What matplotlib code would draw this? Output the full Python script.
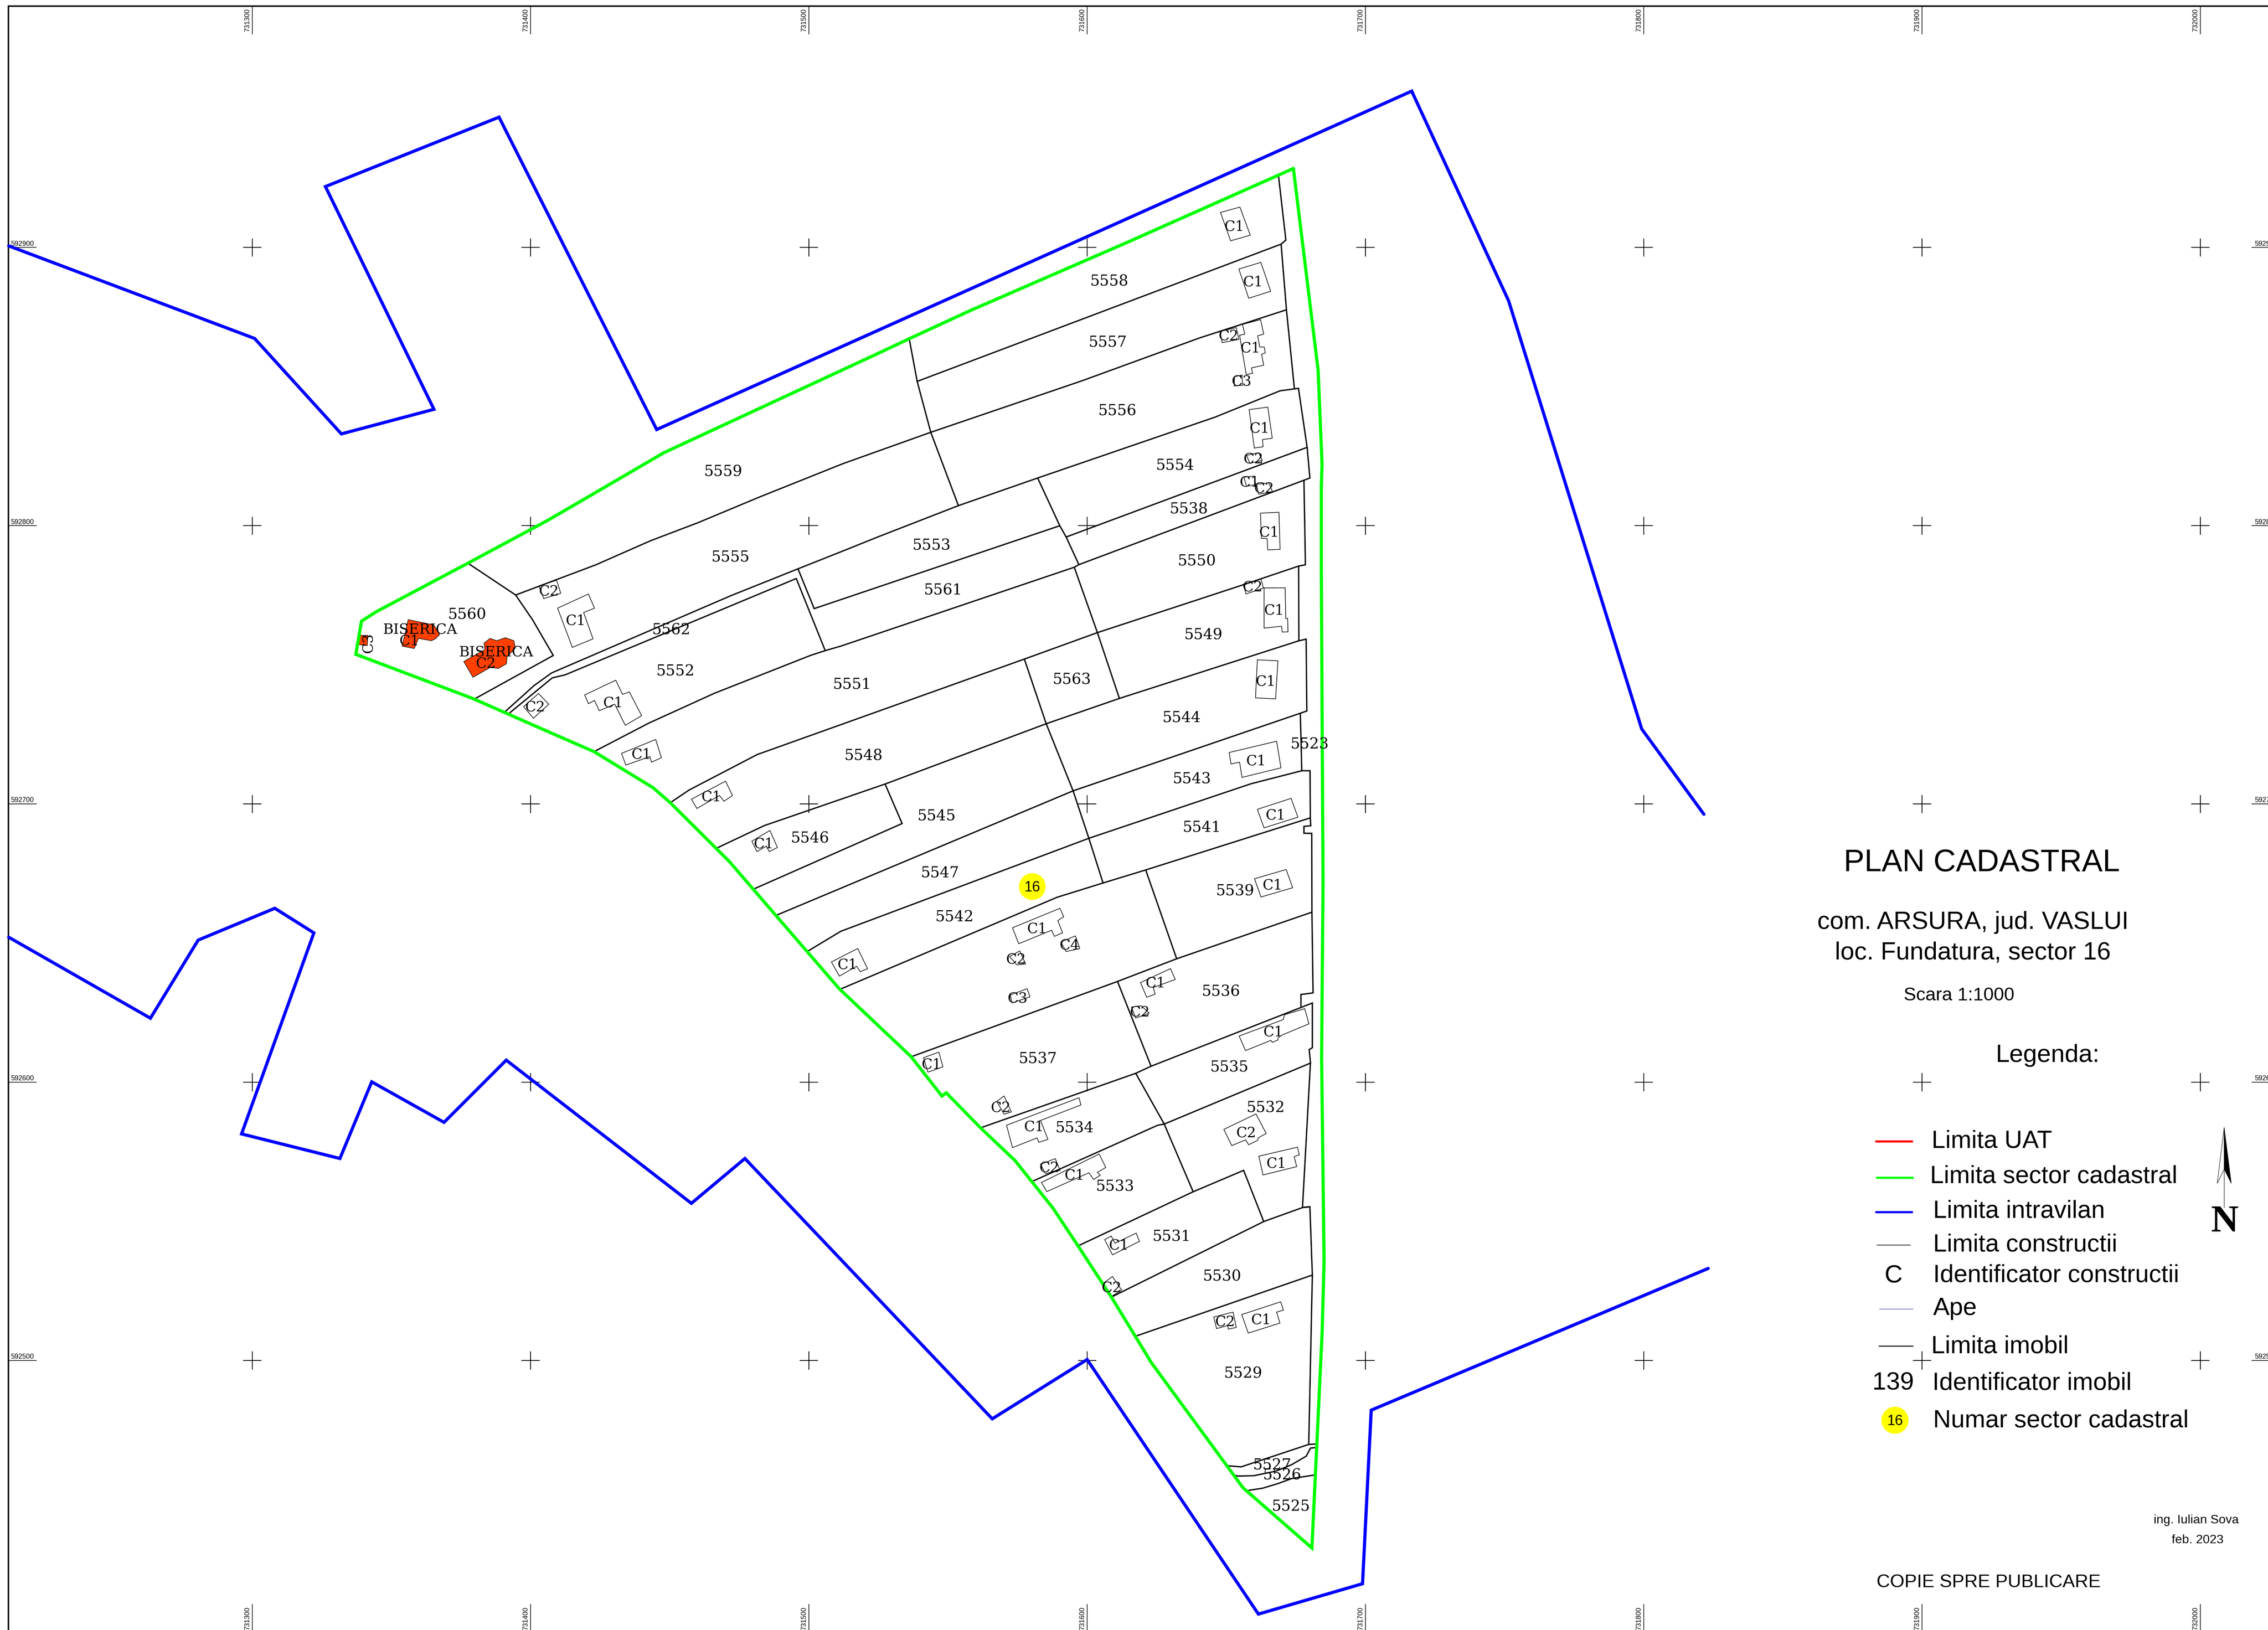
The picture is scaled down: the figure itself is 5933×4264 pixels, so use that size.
import matplotlib
matplotlib.use("Agg")
import matplotlib.pyplot as plt
from matplotlib.patches import Ellipse, Polygon

# all geometry is in sheet units, 1568 wide and 1127 high (y goes down)

# grid of the plan
grid_x = [174.4, 366.8, 559.2, 751.6, 944.0, 1136.4, 1328.8, 1521.2]
grid_x_labels = ["731300", "731400", "731500", "731600", "731700", "731800", "731900", "732000"]
grid_y = [171.1, 363.5, 555.9, 748.3, 940.7]
grid_y_labels = ["592900", "592800", "592700", "592600", "592500"]

# limita intravilan
blue_north = [(6, 170), (176, 234), (236, 300), (300, 283), (225, 129), (345, 81), (454, 297),
              (976, 63), (1043, 208), (1135, 504), (1178, 563)]
blue_south = [(6, 648), (104, 704), (137, 650), (190, 628), (217, 645), (167, 784), (235, 801),
              (257, 748), (307, 776), (350, 733), (478, 832), (515, 801), (686, 981), (751.6, 940),
              (870, 1116), (942, 1095), (948, 975), (1181, 877)]

# limita sector cadastral
green_sector = [(894.2, 116.5), (778.8, 167.8), (670.2, 215), (628.6, 234.2), (607.8, 244), (459, 313),
                (406.7, 343.5), (379, 359.6), (323.5, 389.4), (260.4, 422.8), (249.9, 429.5), (246, 452.4),
                (327, 483), (374, 503.7), (410.7, 519.7), (451.6, 544.7), (463.4, 555), (504, 595.4),
                (528.5, 623.8), (580.3, 683.7), (629.8, 730.5), (651.2, 757.8), (654.2, 755.6),
                (677.8, 779.7), (701.8, 802.5), (727.9, 835.2), (745.5, 861.7), (768.3, 896.7),
                (796.1, 942.3), (859.3, 1028.6), (907, 1070.3), (910.4, 998.7), (914.1, 920.3),
                (915.4, 872), (913.7, 731), (914.7, 610), (913.5, 396), (913.5, 336), (914, 321),
                (911.3, 256), (894.2, 116.5)]

# limita imobil
lot_lines = [
    [(884, 122.4), (889, 166), (885.7, 168.8), (634.1, 263.7)],
    [(885.7, 168.8), (889.4, 214.2), (894.9, 268.9)],
    [(628.6, 234.2), (634.1, 263.7), (643.5, 298.9), (662.6, 349.6)],
    [(356.5, 411.4), (412, 390.5), (449.7, 373.9), (482.8, 361.3), (525.2, 343.6), (583, 320.5),
     (643.5, 298.9), (748, 263.3), (829.2, 233.7), (889.4, 214.2)],
    [(323.5, 389.4), (356.5, 411.4), (368.3, 428.7), (382.5, 453.2), (328.2, 483.2)],
    [(349.4, 491.9), (369, 474.2), (381.3, 465.3), (505.2, 411.9), (551.7, 393.3), (581.4, 381.5),
     (607.8, 370.9), (662.6, 349.6), (717.4, 330.5), (840.1, 288.4), (885, 270.2), (897.7, 268.5),
     (903.7, 309.3), (905.6, 330.5), (745.9, 390.4), (742.7, 392.2), (581.4, 446.7), (570.7, 449.8),
     (560.5, 453.1), (494, 479.3), (448.5, 500), (412, 519)],
    [(352.5, 492.8), (381.8, 468.7), (390.7, 466.6), (550.5, 400), (570.5, 449.8)],
    [(551.7, 393.3), (562.9, 420.8), (732.7, 363.5)],
    [(737.1, 371.3), (903.7, 309.3)],
    [(717.4, 330.5), (732.7, 363.5), (737.1, 371.3), (745.9, 390.4)],
    [(901.5, 332.3), (902.5, 390.5), (897.8, 391.4), (859, 404.5), (758.7, 437.4), (708.2, 455.7),
     (523.5, 521.7), (476.3, 546.3), (464, 554.6)],
    [(742.7, 392.2), (758.7, 437.4), (773.9, 482.9)],
    [(708.2, 455.7), (723.3, 500.4), (741.9, 546.8), (752.8, 579.6), (762.6, 610.5)],
    [(495.1, 586.6), (528.5, 570.8), (611.9, 542.1), (723.3, 500.4), (773.9, 482.9), (897.8, 443.1),
     (903, 441.9), (903.5, 491.6), (741.9, 546.8), (537.3, 632.6)],
    [(897.8, 391.4), (898, 442.8)],
    [(899, 493.7), (900, 532.9), (905.7, 532.9), (905.9, 565.5), (906.2, 570.9), (901.5, 571.4),
     (901.5, 576.1), (906.9, 576.2), (907, 630.7), (907.8, 686.5), (899.4, 687.6), (899.4, 695.7)],
    [(558.9, 657.4), (581.3, 643.9), (752.8, 579.6), (864.9, 541.9), (900, 532.9)],
    [(581.5, 683.7), (730.8, 620.4), (762.6, 610.5), (792.1, 601.5), (905.9, 565.5)],
    [(611.9, 542.1), (623.7, 569.4), (521.3, 614.6)],
    [(792.1, 601.5), (813.5, 662.9)],
    [(630.4, 730.5), (772.6, 678.6), (813.5, 662.9), (907, 630.7)],
    [(678.2, 779.7), (785.2, 742.1), (795.8, 737.2), (907.3, 693.5), (907.3, 724.4), (905.1, 725.7),
     (906, 734.5), (900.5, 834.8), (905.6, 834.4), (907.3, 881.6), (904.8, 998.7)],
    [(772.6, 678.6), (795.8, 737.2)],
    [(785.2, 742.1), (804.9, 777.2), (824.9, 824)],
    [(714.4, 816.5), (800.4, 778), (804.9, 777.2), (906.1, 735)],
    [(746, 861.1), (824.9, 824), (859.8, 809.2), (873.7, 844.6)],
    [(768.6, 896.7), (873.9, 844.5), (900.6, 834.9), (905.6, 834.4)],
    [(785.6, 923.7), (907.3, 881.6)],
    [(849.2, 1013.5), (858.1, 1014.2), (904.8, 998.7), (910.4, 998.4)],
    [(854.2, 1020.1), (855.9, 1020.6), (866.9, 1020.3), (882, 1017.2), (893, 1012.7), (903.1, 1006.8),
     (906, 1001.2), (909.9, 1000.9)],
    [(863.5, 1030.4), (872.8, 1029), (883.7, 1025.7), (893, 1022.3), (909, 1019.8)],
]

# limita constructii
buildings = [
    [(843.8, 146.9), (857.2, 143.2), (864.4, 162.6), (850.8, 166.5)],
    [(856.5, 186), (871.7, 181.4), (878.5, 201.4), (863.3, 206.2)],
    [(843.4, 229.2), (854.7, 226.5), (856.5, 234.6), (845, 236.9)],
    [(859, 224.3), (871.5, 221), (873.7, 231), (869.5, 232.2), (870.9, 239.9), (874, 239.9), (874.8, 244),
     (872.2, 244.9), (873.7, 252.5), (865.2, 254.4), (866, 258.1), (861.6, 259), (857, 231.8), (860.6, 231)],
    [(853.5, 260.5), (858.7, 259.3), (859, 266.4), (853.3, 266.9)],
    [(863.6, 283.2), (876.5, 281.5), (879.6, 303), (872.9, 303.9), (873.2, 308.9), (867.2, 309.8)],
    [(861.8, 314.8), (870.2, 313), (872.7, 318.3), (864.1, 320.4)],
    [(860, 329.9), (867.1, 329.2), (868.1, 335.1), (861.8, 336.2)],
    [(868.6, 334.8), (877.2, 333.9), (879.8, 340.1), (870.2, 341.7)],
    [(871.4, 354.8), (884.2, 354.2), (885, 379.8), (876.5, 380.2), (876, 372.4), (872.1, 372.2)],
    [(859.4, 404), (871.7, 400.3), (873.5, 406.5), (861.5, 410.7)],
    [(873.9, 406.5), (888.5, 406.4), (888.9, 427.6), (890.2, 427.6), (890.5, 436.9), (886.5, 437),
     (886, 433), (873.9, 434.3)],
    [(869.3, 456.2), (883.5, 456.9), (881.9, 483.2), (868, 482.5)],
    [(849.8, 520.3), (882.6, 512.5), (885.6, 530.9), (858.7, 537.5), (857, 527), (851.1, 528.2)],
    [(869.3, 559.6), (892.6, 552), (897.3, 565), (873.9, 572.4)],
    [(867.3, 607.6), (889.2, 601.2), (893.7, 613.8), (871.8, 620.2)],
    [(372.6, 405.1), (384.8, 401.2), (387.7, 410.2), (375.9, 413.9)],
    [(385.5, 420.5), (406.8, 410.7), (411, 420.5), (403.5, 423.5), (410, 441.7), (395.7, 447.6)],
    [(362, 488.6), (372.3, 479.5), (379.4, 486.9), (368.8, 496.6)],
    [(404.2, 480.5), (425.7, 470.3), (430.4, 480.1), (435.1, 478.4), (443.6, 494.8), (432.3, 501.5),
     (425, 486.9), (414.3, 491.4), (411, 484.3), (406.8, 486.5)],
    [(429.7, 520.9), (453.3, 511.3), (457.3, 523.9), (450.4, 527), (449.3, 523.1), (432.7, 529)],
    [(478, 552.6), (501.6, 540.1), (506.4, 550), (500.5, 554), (497.4, 550), (481.8, 559)],
    [(519.8, 581.6), (532.3, 574.2), (537.5, 586), (531.8, 588.8), (529.9, 585), (523.3, 588.8)],
    [(574.8, 665.1), (593, 655.8), (599.8, 669.8), (594.8, 671.8), (592.2, 668.1), (580.3, 674.9)],
    [(700, 641.5), (732.8, 628), (735.4, 633.9), (731.3, 636.5), (734.6, 644.9), (729, 647.4),
     (727, 643.2), (704.3, 652.5)],
    [(733.4, 651.3), (743.5, 647.1), (746.5, 655.8), (737.1, 657.9)],
    [(698, 661.4), (705, 657.5), (709.1, 666.5), (703, 667.1)],
    [(698.5, 687.9), (710.1, 683.6), (712.1, 689.2), (699.7, 693.4)],
    [(788.5, 679.4), (809.2, 669.7), (812.5, 677.2), (797.3, 682.8), (798.6, 687.4), (792.8, 689.5)],
    [(782.2, 696.3), (789, 695.4), (794.6, 700.5), (785.2, 703.9)],
    [(856.7, 716.3), (887.1, 705), (888.1, 701.6), (902, 697.4), (905, 707.9), (886.4, 715.6),
     (883.6, 717.6), (883.6, 719), (879.6, 720.7), (878.7, 719.3), (861.1, 726.4)],
    [(638.5, 731.3), (649.1, 727.5), (651.9, 737.6), (641.5, 741.3)],
    [(689.1, 761.5), (694.2, 757.8), (699.2, 768.8), (694.2, 770.4)],
    [(695.9, 778), (746, 759), (747.3, 764), (719.4, 774.7), (724.5, 787.8), (718.2, 789.8),
     (716.9, 786.8), (700, 793.5)],
    [(719.4, 805), (729.6, 801.1), (732.9, 809.2), (722.7, 811.4)],
    [(720, 817.6), (759.9, 797.9), (764.5, 807.2), (758.6, 810.6), (760.7, 812.6), (756.1, 815.5),
     (752.8, 810.9), (723.7, 823.9)],
    [(846.1, 780.9), (868.3, 770.2), (875.4, 783.7), (869.9, 786.7), (869.5, 788.4), (863.3, 791.5),
     (861.1, 788.1), (851.6, 792.1)],
    [(870.3, 799.4), (897, 793.2), (898.3, 798.5), (894.7, 799.7), (896.5, 806.6), (873.2, 812.4)],
    [(763.7, 857.1), (768.3, 854.6), (770.8, 859.6), (785.5, 852.6), (787.8, 858.3), (769.1, 867.6)],
    [(762.4, 887.5), (769.1, 882.6), (775.5, 892), (768.3, 896.4)],
    [(839.1, 910.6), (852.5, 907.2), (854.7, 917.8), (849.2, 919), (848.7, 916.5), (841.1, 918.6)],
    [(858.5, 908.9), (885.4, 900.1), (887.3, 905.8), (882.6, 907.2), (884.9, 914.8), (863, 921.7)],
]

# bisericile, filled
churches = [
    [(248.7, 439.3), (254.3, 439.3), (253.9, 446.4), (247.5, 445.6)],
    [(282.2, 428.4), (299.9, 432.1), (302.2, 436), (303.9, 438.8), (301, 441.7), (298.2, 443), (289.3, 441.4),
     (286.4, 448.4), (277.9, 446.7), (280.3, 437.2)],
    [(320.6, 457.4), (335.3, 449), (334.6, 444.7), (338.8, 441.4), (343.5, 443), (349.4, 440.9), (355.3, 443),
     (356.3, 448.1), (350.6, 454), (350.1, 459), (344.7, 462.1), (338.8, 461.6), (327, 468.3)],
]

lot_ids = ["5558", "5557", "5556", "5554", "5538", "5550", "5549", "5563", "5544", "5543", "5541", "5539",
           "5523", "5559", "5555", "5553", "5561", "5560", "5562", "5552", "5551", "5548", "5545", "5546",
           "5547", "5542", "5536", "5537", "5535", "5534", "5532", "5533", "5531", "5530", "5529", "5527",
           "5526", "5525"]
lot_id_xy = [(767, 193.5), (766, 235.5), (772.5, 283), (812.5, 320.5), (822, 351), (827.5, 387), (832, 438),
             (741, 469), (817, 495), (824, 537.5), (831, 571), (854, 615), (905.5, 513.5), (500, 325), (505, 384),
             (644, 376), (652, 407), (323, 424), (464, 434.5), (467, 463), (589, 472), (597, 521.5), (647.5, 563),
             (560, 578.5), (650, 602.5), (660, 633), (844, 684.5), (717.5, 731), (850, 737), (743, 779),
             (875, 765), (771, 819.5), (810, 854), (845, 881.5), (859.5, 948.5), (879.5, 1012), (886.5, 1019),
             (892.5, 1040.5)]

building_ids = ["C1", "C1", "C2", "C1", "C3", "C1", "C2", "C1", "C2", "C1", "C2", "C1", "C1", "C1", "C1", "C1",
                "C2", "C1", "C2", "C1", "C1", "C1", "C1", "C1", "C1", "C4", "C2", "C3", "C1", "C2", "C1", "C1",
                "C2", "C1", "C2", "C1", "C2", "C1", "C1", "C2", "C2", "C1", "C1", "C2"]
building_id_xy = [(853.5, 155.5), (866.5, 194), (849.5, 231.5), (864.5, 239.5), (858.5, 263), (871, 295),
                  (866.5, 316.5), (864, 332.5), (874, 337), (877.5, 367), (866, 405), (881, 421), (875, 470),
                  (868.5, 525), (882, 562.5), (880, 611), (379.5, 408), (398, 428), (370, 488), (424, 485),
                  (443.5, 520.5), (492, 550), (528, 582.5), (586, 666), (717, 641), (739.5, 652.5),
                  (702.5, 662.5), (703.5, 689.5), (799, 678.5), (788, 699), (880.5, 712.5), (644, 735),
                  (692, 765), (715, 778), (725.5, 806.5), (743, 811.5), (861.5, 782.5), (882.5, 803.5),
                  (773.5, 860), (768.5, 889.5), (847, 913), (872, 911.5), (283, 442), (336, 458)]

church_names = ["BISERICA", "BISERICA"]
church_xy = [(290.5, 434.5), (343, 450)]

legend_names = ["Limita UAT", "Limita sector cadastral", "Limita intravilan", "Limita constructii",
                "Identificator constructii", "Ape", "Limita imobil", "Identificator imobil",
                "Numar sector cadastral"]
legend_text_xy = [(1335.5, 787.4), (1334.5, 811.5), (1336.5, 835.7), (1336.5, 858.9), (1336.5, 880.1),
                  (1336.5, 902.8), (1335.1, 929.2), (1335.9, 954.7), (1336.5, 980.6)]

fig = plt.figure(figsize=(59.33, 42.64), dpi=100)
ax = fig.add_axes([0, 0, 1, 1])
ax.set_xlim(0, 1568)
ax.set_ylim(1127, 0)
ax.axis("off")

SERIF = "DejaVu Serif"
SANS = "Liberation Sans"
# text sits a bit high with va=center, these push it back down
SERIF_DY = 1.3
SANS_DY = 1.8


def draw_line(points, color="black", lw=2.5, z=3):
    xs = [p[0] for p in points]
    ys = [p[1] for p in points]
    ax.plot(xs, ys, color=color, lw=lw, solid_capstyle="round", solid_joinstyle="miter", zorder=z)


# frame
draw_line([(5.8, 1127), (5.8, 4.3), (1568, 4.3)], lw=2.8)

# grid crosses and coordinates
for gx in grid_x:
    for gy in grid_y:
        ax.plot([gx - 6, gx + 6], [gy, gy], color="black", lw=1.5, zorder=2)
        ax.plot([gx, gx], [gy - 6, gy + 6], color="black", lw=1.5, zorder=2)
for gx, label in zip(grid_x, grid_x_labels):
    ax.plot([gx, gx], [4.3, 23.6], color="black", lw=1.2, zorder=2)
    ax.plot([gx, gx], [1109.4, 1127], color="black", lw=1.2, zorder=2)
    ax.text(gx - 1, 14, label, rotation=90, ha="right", va="center", fontsize=13, family=SANS)
    ax.text(gx - 1, 1119, label, rotation=90, ha="right", va="center", fontsize=13, family=SANS)
for gy, label in zip(grid_y, grid_y_labels):
    ax.plot([5.8, 25], [gy, gy], color="black", lw=1.2, zorder=2)
    ax.plot([1556.8, 1568], [gy, gy], color="black", lw=1.2, zorder=2)
    ax.text(7.4, gy - 0.2, label, ha="left", va="bottom", fontsize=13, family=SANS)
    ax.text(1558.8, gy - 0.2, label, ha="left", va="bottom", fontsize=13, family=SANS, clip_on=True)

# plan
for church in churches:
    ax.add_patch(Polygon(church, closed=True, facecolor="#ff4000", edgecolor="black", lw=1.0, zorder=2))
for building in buildings:
    ax.add_patch(Polygon(building, closed=True, fill=False, edgecolor="black", lw=1.2, zorder=3))
for lot in lot_lines:
    draw_line(lot)
draw_line(blue_north, color="#0000ff", lw=6, z=4)
draw_line(blue_south, color="#0000ff", lw=6, z=4)
draw_line(green_sector, color="#00ff00", lw=6, z=4)

for label, (x, y) in zip(lot_ids, lot_id_xy):
    ax.text(x, y + SERIF_DY, label, ha="center", va="center", fontsize=28.5, family=SERIF, zorder=5)
for label, (x, y) in zip(building_ids, building_id_xy):
    ax.text(x, y + SERIF_DY, label, ha="center", va="center", fontsize=27, family=SERIF, zorder=5)
for label, (x, y) in zip(church_names, church_xy):
    ax.text(x, y + SERIF_DY, label, ha="center", va="center", fontsize=27, family=SERIF, zorder=5)
ax.text(254.8, 444.4, "C3", rotation=90, ha="center", va="center", fontsize=27, family=SERIF, zorder=5)

# sector number on the plan
ax.add_patch(Ellipse((713.7, 613), 18.5, 18.5, facecolor="#ffff00", edgecolor="none", zorder=5))
ax.text(713.7, 613 + 0.8, "16", ha="center", va="center", fontsize=27, family=SANS, zorder=6)

# titles
ax.text(1370, 595 + SANS_DY, "PLAN CADASTRAL", ha="center", va="center", fontsize=58.5, family=SANS)
ax.text(1364, 636 + SANS_DY, "com. ARSURA, jud. VASLUI", ha="center", va="center", fontsize=47, family=SANS)
ax.text(1363.8, 657 + SANS_DY, "loc. Fundatura, sector 16", ha="center", va="center", fontsize=47, family=SANS)
ax.text(1354.4, 686.5 + SANS_DY, "Scara 1:1000", ha="center", va="center", fontsize=35, family=SANS)
ax.text(1415.8, 728 + SANS_DY, "Legenda:", ha="center", va="center", fontsize=47, family=SANS)

# legend
draw_line([(1297, 789.3), (1322, 789.3)], color="#ff0000", lw=4)
draw_line([(1297.7, 814.3), (1322.4, 814.3)], color="#00ff00", lw=4)
draw_line([(1297, 838.2), (1322, 838.2)], color="#0000ff", lw=4)
draw_line([(1297.7, 860.9), (1321, 860.9)], lw=1.2)
draw_line([(1299.1, 905), (1322.6, 905)], color="#2020c0", lw=0.9)
draw_line([(1299, 930.5), (1322.6, 930.5)], lw=1.8)
ax.text(1309, 880.6 + SANS_DY, "C", ha="center", va="center", fontsize=47, family=SANS)
ax.text(1308.9, 954.7 + SANS_DY, "139", ha="center", va="center", fontsize=47, family=SANS)
ax.add_patch(Ellipse((1310.1, 982), 18.7, 18.7, facecolor="#ffff00", edgecolor="none", zorder=5))
ax.text(1310.1, 982 + 0.8, "16", ha="center", va="center", fontsize=27, family=SANS, zorder=6)
for label, (x, y) in zip(legend_names, legend_text_xy):
    ax.text(x, y + SANS_DY, label, ha="left", va="center", fontsize=46.5, family=SANS)

# north arrow
draw_line([(1537.7, 779.5), (1537.7, 835)], lw=0.8)
ax.add_patch(Polygon([(1537.7, 779.5), (1532.9, 818.2), (1537.7, 808.3)], closed=True, fill=False,
                     edgecolor="black", lw=0.8, zorder=3))
ax.add_patch(Polygon([(1537.7, 779.5), (1542.6, 818.2), (1537.7, 808.3)], closed=True, facecolor="black",
                     edgecolor="black", lw=0.8, zorder=3))
ax.text(1537.9, 843 + SANS_DY, "N", ha="center", va="center", fontsize=72, fontweight="bold",
        family="Liberation Serif")

# signature
ax.text(1518.3, 1050.4 + 0.8, "ing. Iulian Sova", ha="center", va="center", fontsize=23.4, family=SANS)
ax.text(1519.4, 1064 + 0.8, "feb. 2023", ha="center", va="center", fontsize=23.4, family=SANS)
ax.text(1297.5, 1092.3 + SANS_DY, "COPIE SPRE PUBLICARE", ha="left", va="center", fontsize=35, family=SANS)

fig.savefig("out.png", dpi=100, facecolor="white")
